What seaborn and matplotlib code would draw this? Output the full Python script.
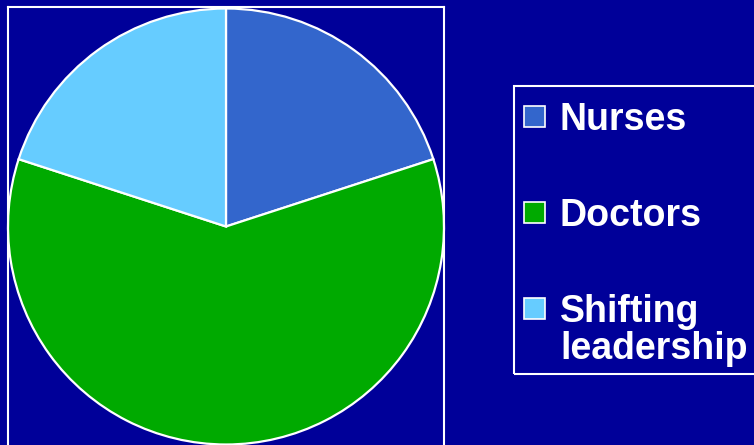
import matplotlib
matplotlib.use("Agg")
import matplotlib.pyplot as plt
import seaborn as sns
from matplotlib.patches import Rectangle
from matplotlib.legend_handler import HandlerPatch

categories = ["Nurses", "Doctors", "Shifting\nleadership"]
values = [20, 60, 20]
colors = ["#3366CC", "#00AA00", "#66CCFF"]
BG = "#000099"

sns.set_theme(style="white")
plt.rcParams["font.family"] = ["Liberation Sans", "DejaVu Sans"]

W, H = 754, 445
fig = plt.figure(figsize=(W / 100, H / 100), dpi=100, facecolor=BG)
ax = fig.add_axes([8 / W, -1.5 / H, 436 / W, 440 / H])
ax.set_facecolor(BG)

wedges, _ = ax.pie(values, colors=sns.color_palette(colors), startangle=90,
                   counterclock=False, radius=1.0,
                   wedgeprops=dict(edgecolor="white", linewidth=1.6))
ax.set_xlim(-1.0, 1.0)
ax.set_ylim(-1.0 - 2.0 / 218, 1.0 + 2.0 / 218)
ax.set_aspect("auto")
ax.set_frame_on(True)
for s in ax.spines.values():
    s.set_visible(True)
    s.set_color("white")
    s.set_linewidth(1.5)
ax.set_xticks([])
ax.set_yticks([])


def make_patch(shift):
    def f(legend, orig_handle, xdescent, ydescent, width, height, fontsize):
        return Rectangle((-xdescent, -ydescent + shift), width, width)
    return f


handler_map = {
    wedges[0]: HandlerPatch(patch_func=make_patch(1)),
    wedges[1]: HandlerPatch(patch_func=make_patch(1)),
    wedges[2]: HandlerPatch(patch_func=make_patch(17)),
}

leg = fig.legend(wedges, categories, loc="upper left",
                 bbox_to_anchor=(524 / W, 1 - 102 / H),
                 bbox_transform=fig.transFigure, borderaxespad=0,
                 prop=dict(family=["Liberation Sans", "DejaVu Sans"], weight="bold", size=27),
                 frameon=False,
                 handlelength=0.56, handleheight=0.56, handletextpad=0.4,
                 borderpad=0, labelspacing=1.6, handler_map=handler_map)
for t in leg.get_texts():
    t.set_color("white")
    t.set_linespacing(1.05)
for h in leg.legend_handles:
    h.set_edgecolor("white")
    h.set_linewidth(1.2)

# legend border box
fig.patches.append(Rectangle((514 / W, 1 - 374 / H), 250 / W, 288 / H,
                             transform=fig.transFigure, fill=False,
                             edgecolor="white", linewidth=1.5, zorder=0))

fig.savefig("out.png", dpi=100, facecolor=BG)
